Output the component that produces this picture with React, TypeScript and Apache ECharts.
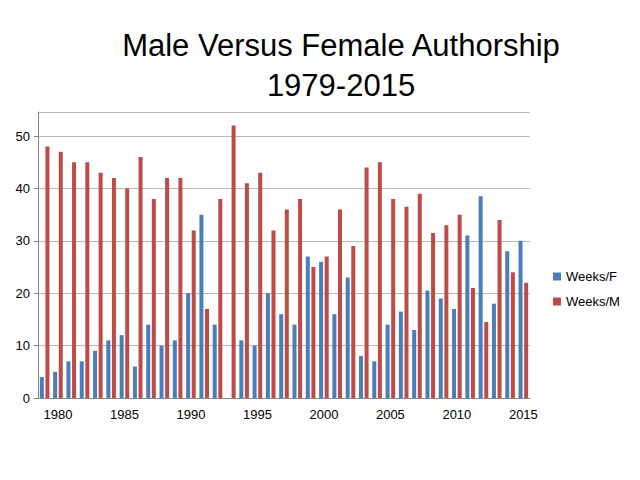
import { useEffect, useRef } from 'react';
import * as echarts from 'echarts';

const years = Array.from({ length: 37 }, (_, i) => String(1979 + i));
const weeksF = [4, 5, 7, 7, 9, 11, 12, 6, 14, 10, 11, 20, 35, 14, 0, 11, 10, 20, 16, 14, 27, 26, 16, 23, 8, 7, 14, 16.5, 13, 20.5, 19, 17, 31, 38.5, 18, 28, 30];
const weeksM = [48, 47, 45, 45, 43, 42, 40, 46, 38, 42, 42, 32, 17, 38, 52, 41, 43, 32, 36, 38, 25, 27, 36, 29, 44, 45, 38, 36.5, 39, 31.5, 33, 35, 21, 14.5, 34, 24, 22];

export default function App() {
  const chartRef = useRef<HTMLDivElement>(null);

  useEffect(() => {
    if (!chartRef.current) return;
    const chart = echarts.init(chartRef.current, undefined, { renderer: 'svg' });
    const font = 'Liberation Sans, Arial, sans-serif';

    chart.setOption({
      animation: false,
      backgroundColor: '#ffffff',
      title: {
        text: 'Male Versus Female Authorship\n1979-2015',
        left: 328,
        top: 12,
        textAlign: 'center',
        textStyle: { fontFamily: font, fontSize: 31, fontWeight: 'normal', color: '#000', lineHeight: 40 },
      },
      legend: {
        orient: 'vertical',
        left: 540,
        top: 257,
        itemWidth: 8,
        itemHeight: 8,
        itemGap: 12,
        icon: 'rect',
        textStyle: { fontFamily: font, fontSize: 13, color: '#000' },
      },
      grid: { left: 30, right: 102, top: 104, bottom: 74 },
      xAxis: {
        type: 'category',
        data: years,
        axisLine: { lineStyle: { color: '#888' } },
        axisTick: { lineStyle: { color: '#888' }, length: 5 },
        axisLabel: {
          interval: (_i: number, v: string) => Number(v) % 5 === 0,
          fontFamily: font,
          fontSize: 13,
          color: '#000',
          margin: 10,
        },
      },
      yAxis: {
        type: 'value',
        min: 0,
        max: 54.6,
        interval: 10,
        axisLine: { show: true, lineStyle: { color: '#888' } },
        axisTick: { show: true, lineStyle: { color: '#888' }, length: 4 },
        splitLine: { lineStyle: { color: '#bbb' } },
        axisLabel: {
          showMaxLabel: false,
          fontFamily: font,
          fontSize: 13,
          color: '#000',
          formatter: (v: number) => (v % 10 === 0 ? String(v) : ''),
        },
      },
      series: [
        { name: 'Weeks/F', type: 'bar', data: weeksF, barWidth: 4, barGap: '40%', itemStyle: { color: '#4a7ebb' } },
        { name: 'Weeks/M', type: 'bar', data: weeksM, barWidth: 4, itemStyle: { color: '#be4b48' } },
      ],
    });

    return () => chart.dispose();
  }, []);

  return <div ref={chartRef} style={{ width: 624, height: 464 }} />;
}
